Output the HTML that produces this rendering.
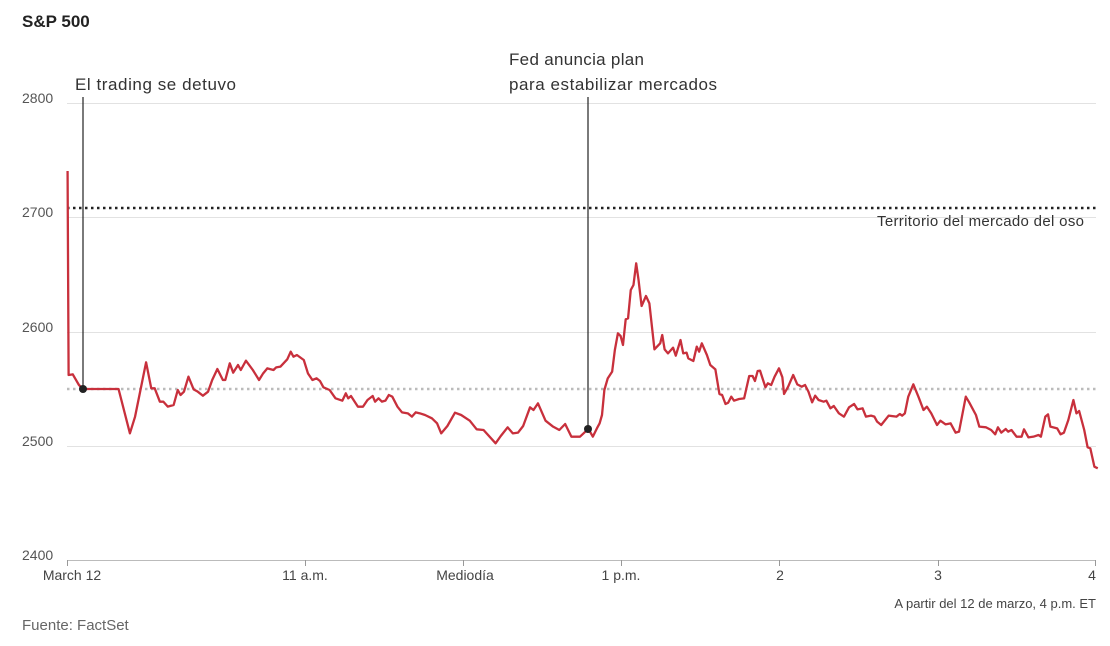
<!DOCTYPE html>
<html><head><meta charset="utf-8"><style>
body{margin:0;background:#fff;}
svg{display:block;font-family:"Liberation Sans",sans-serif;}
</style></head><body>
<svg width="1110" height="646" viewBox="0 0 1110 646">
<text x="22" y="27" font-size="17" font-weight="bold" fill="#222">S&amp;P 500</text>
<g stroke="#e2e2e2" stroke-width="1">
<line x1="67" x2="1096" y1="103.5" y2="103.5"/>
<line x1="67" x2="1096" y1="217.5" y2="217.5"/>
<line x1="67" x2="1096" y1="332.5" y2="332.5"/>
<line x1="67" x2="1096" y1="446.5" y2="446.5"/>
</g>
<line x1="67" x2="1096" y1="560.5" y2="560.5" stroke="#bbb"/>
<g stroke="#999"><line x1="67.5" x2="67.5" y1="560" y2="566"/><line x1="305.5" x2="305.5" y1="560" y2="566"/><line x1="463.5" x2="463.5" y1="560" y2="566"/><line x1="621.5" x2="621.5" y1="560" y2="566"/><line x1="779.5" x2="779.5" y1="560" y2="566"/><line x1="938.5" x2="938.5" y1="560" y2="566"/><line x1="1095.5" x2="1095.5" y1="560" y2="566"/></g>
<g font-size="14" fill="#555">
<text x="22" y="103">2800</text><text x="22" y="217">2700</text><text x="22" y="332">2600</text><text x="22" y="446">2500</text><text x="22" y="560">2400</text>
</g>
<g font-size="14" fill="#444" text-anchor="middle">
<text x="72" y="580">March 12</text><text x="305" y="580">11 a.m.</text><text x="465" y="580">Mediodía</text><text x="621" y="580">1 p.m.</text><text x="780" y="580">2</text><text x="938" y="580">3</text><text x="1092" y="580">4</text>
</g>
<line x1="67" x2="1096" y1="208" y2="208" stroke="#222" stroke-width="2.5" stroke-dasharray="2.5,3.5"/>
<line x1="67" x2="1096" y1="389" y2="389" stroke="#bbb" stroke-width="2.5" stroke-dasharray="2.5,3.5"/>
<text x="1084" y="226" font-size="15" fill="#333" text-anchor="end" textLength="207">Territorio del mercado del oso</text>
<g fill="none" stroke="#c8303c" stroke-width="2.3" stroke-linejoin="round">
<g transform="translate(60,150) scale(0.34435,0.33333)">
<polyline vector-effect="non-scaling-stroke" points="22,63 25,675 37,673 55,705 67,717 170,717 203,850 218,800 250,637 265,715 275,715 290,755 300,755 313,770 330,765 342,720 350,735 360,725 373,680 388,718 400,725 415,737 430,725 442,690 457,657 473,690 480,690 493,640 503,668 517,645 525,660 540,632 560,660 578,690 590,670 602,655 620,660 628,652 640,650 660,628 670,605 678,620 688,615 708,630 720,670 733,690 745,685 755,693 765,712 783,720 800,745 820,752 830,730 837,745 845,738 865,770 880,770 893,750 908,738 915,755 925,745 935,755 945,752 955,735 965,740 980,770 993,787 1010,790 1022,800 1033,787 1045,790 1060,795 1080,805 1095,820 1107,850 1125,828 1147,788 1165,795 1190,812 1210,838 1230,840 1265,880 1280,858 1300,832 1315,850 1330,848 1345,828 1365,772 1375,780 1388,760 1410,812 1432,830 1450,840 1467,822 1485,860 1510,860 1533,838"/>
</g>
<g transform="translate(580,250) scale(0.33841,0.33333)">
<polyline vector-effect="non-scaling-stroke" points="25,537 38,560 50,535 58,520 65,495 72,420 82,385 95,365 103,300 112,250 120,258 127,285 135,208 142,205 150,120 158,105 166,40 173,90 182,168 195,138 205,160 220,298 237,280 243,255 250,298 260,310 275,293 283,317 297,270 305,310 315,308 320,325 335,333 345,290 352,305 360,280 375,315 385,345 400,358 412,432 420,435 430,462 438,458 447,440 455,452 470,447 485,445 500,378 510,378 517,393 525,363 532,362 548,412 555,400 565,405 575,380 588,355 598,382 603,432 615,410 630,375 642,403 655,410 665,405 675,425 686,457 695,437 705,450 720,455 728,452 740,475 750,468 765,490 780,500 795,472 810,462 820,478 835,475 845,500 860,497 870,500 878,515 890,525 912,497 935,500 945,492 952,497 960,490 970,440 985,403 1000,440 1015,480 1025,470 1038,490 1055,525 1065,512 1080,523 1095,520 1110,548 1120,545 1140,440 1150,457 1170,495 1180,530 1200,532 1215,540 1227,553 1235,532 1245,548 1258,537 1265,545 1275,540 1290,560 1305,560 1312,538 1325,562 1340,560 1355,555 1362,560 1375,500 1383,493 1390,530 1410,535 1420,553 1430,548 1443,510 1458,450 1467,490 1475,483 1490,540 1500,592 1508,595 1520,650 1530,655"/>
</g>
</g>
<line x1="83" x2="83" y1="97" y2="389" stroke="#222" stroke-width="1.2"/>
<line x1="588" x2="588" y1="97" y2="429" stroke="#222" stroke-width="1.2"/>
<circle cx="83" cy="389" r="4" fill="#222"/>
<circle cx="588" cy="429" r="4" fill="#222"/>
<g font-size="17" fill="#333">
<text x="75" y="90" textLength="161">El trading se detuvo</text>
<text x="509" y="65" textLength="135">Fed anuncia plan</text>
<text x="509" y="90" textLength="208">para estabilizar mercados</text>
</g>
<text x="1096" y="608" font-size="13" fill="#444" text-anchor="end">A partir del 12 de marzo, 4 p.m. ET</text>
<text x="22" y="630" font-size="15" fill="#666">Fuente: FactSet</text>
</svg>
</body></html>
